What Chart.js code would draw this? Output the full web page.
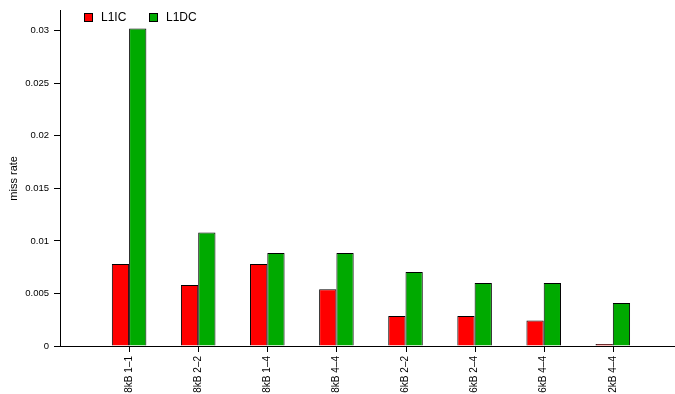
<!DOCTYPE html>
<html>
<head>
<meta charset="utf-8">
<script src="https://cdn.jsdelivr.net/npm/chart.js@4.4.3/dist/chart.umd.min.js"></script>
<style>
  html, body { margin: 0; padding: 0; background: #fff; overflow: hidden; }
  #wrap { width: 675px; height: 394px; }
</style>
</head>
<body>
<div id="wrap"><canvas id="c" width="675" height="394"></canvas></div>
<script>
// values
const categories = ['8kB 1–1', '8kB 2–2', '8kB 1–4', '8kB 4–4', '6kB 2–2', '6kB 2–4', '6kB 4–4', '2kB 4–4'];
const l1ic = [0.0078, 0.0058, 0.0078, 0.0054, 0.00285, 0.00285, 0.00242, 0.0002];
const l1dc = [0.0302, 0.0108, 0.00884, 0.00884, 0.00705, 0.006, 0.006, 0.0041];
const yTicks = [0, 0.005, 0.01, 0.015, 0.02, 0.025, 0.03];

const FONT = 'Liberation Sans, Arial, sans-serif';

// bars sit at positions 1..8 on a linear x scale
const toPoints = vals => vals.map((v, i) => ({ x: i + 1, y: v }));

// simple legend drawn inside the plot, top-left
const legendPlugin = {
  id: 'topLegend',
  afterDraw(chart) {
    const ctx = chart.ctx;
    const pos = [84, 149];
    ctx.save();
    ctx.font = '12px ' + FONT;
    ctx.textBaseline = 'middle';
    chart.data.datasets.forEach((ds, i) => {
      const x = pos[i], y = 13;
      ctx.fillStyle = ds.backgroundColor;
      ctx.fillRect(x, y, 8, 8);
      ctx.strokeStyle = '#000';
      ctx.lineWidth = 1;
      ctx.strokeRect(x + 0.5, y + 0.5, 8, 8);
      ctx.fillStyle = '#000';
      ctx.fillText(ds.label, x + 17, y + 4.5);
    });
    ctx.restore();
  }
};

// x tick marks under each category, placed by the x scale
const xTickPlugin = {
  id: 'xTicks',
  afterDraw(chart) {
    const sx = chart.scales.x;
    const ctx = chart.ctx;
    ctx.save();
    ctx.strokeStyle = '#000';
    ctx.lineWidth = 1;
    categories.forEach((_, i) => {
      const px = Math.round(sx.getPixelForValue(i + 1)) + 0.5;
      ctx.beginPath();
      ctx.moveTo(px, sx.top);
      ctx.lineTo(px, sx.top + 6);
      ctx.stroke();
    });
    ctx.restore();
  }
};

new Chart(document.getElementById('c'), {
  type: 'bar',
  data: {
    datasets: [
      { label: 'L1IC', data: toPoints(l1ic), backgroundColor: '#ff0000', borderColor: '#000', borderWidth: 1 },
      { label: 'L1DC', data: toPoints(l1dc), backgroundColor: '#00aa00', borderColor: '#000', borderWidth: 1 }
    ]
  },
  options: {
    responsive: false,
    animation: false,
    layout: { padding: { top: 8, right: 0, left: 0, bottom: 0 } },
    categoryPercentage: 0.5,
    barPercentage: 1.0,
    plugins: { legend: { display: false }, tooltip: { enabled: false } },
    scales: {
      x: {
        type: 'linear',
        min: 0,
        max: 8.9,
        offset: false,
        afterBuildTicks: s => { s.ticks = categories.map((_, i) => ({ value: i + 1 })); },
        afterFit: s => { s.height = 48; },
        grid: { display: false, drawTicks: true, tickLength: 6 },
        border: { display: true, color: '#000', width: 1 },
        ticks: {
          autoSkip: false,
          minRotation: 90,
          maxRotation: 90,
          padding: 4,
          color: '#000',
          font: { family: FONT, size: 10 },
          callback: v => categories[v - 1] || ''
        }
      },
      y: {
        min: 0,
        max: 0.0319,
        afterBuildTicks: s => { s.ticks = yTicks.map(v => ({ value: v })); },
        afterFit: s => { s.width = 60; },
        grid: { display: true, drawOnChartArea: false, drawTicks: true, tickLength: 6, color: '#000' },
        border: { display: true, color: '#000', width: 1 },
        title: { display: true, text: 'miss rate', color: '#000', font: { family: FONT, size: 11 }, padding: { top: 7, bottom: 0 } },
        ticks: {
          padding: 5,
          color: '#000',
          font: { family: FONT, size: 9.5 },
          callback: v => String(+v.toFixed(4))
        }
      }
    }
  },
  plugins: [legendPlugin, xTickPlugin]
});
</script>
</body>
</html>
